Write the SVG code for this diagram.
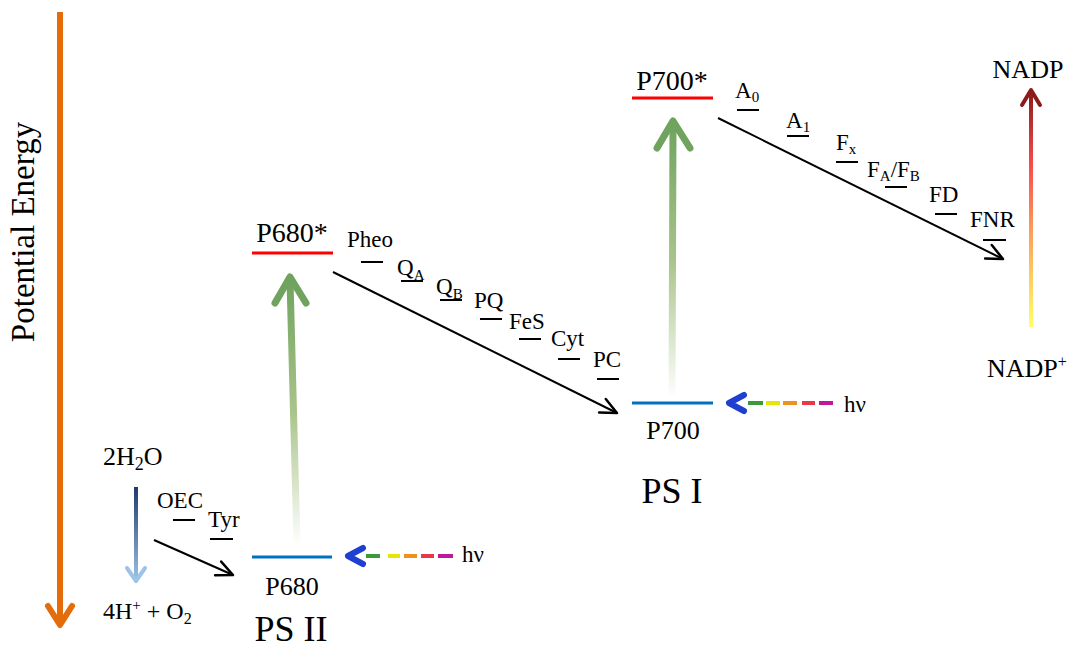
<svg xmlns="http://www.w3.org/2000/svg" width="1079" height="647" viewBox="0 0 1079 647">
  <style>
    text { font-family: "Liberation Serif", "Times New Roman", serif; fill: #000; }
    .lbl { font-size: 23px; }
    .big { font-size: 28px; }
    .ps { font-size: 36px; }
    .dash { stroke: #000; stroke-width: 2; }
    .conn { stroke: #000; stroke-width: 2; fill: none; }
    .hv { stroke-width: 4; fill: none; }
    .hvhead { fill: none; stroke: #1f3fd0; stroke-width: 6; stroke-linecap: round; stroke-linejoin: round; }
  </style>
  <defs>
    <marker id="open" markerUnits="userSpaceOnUse" markerWidth="20" markerHeight="20" refX="0" refY="0" viewBox="-14 -8 16 16" orient="auto" overflow="visible">
      <path d="M-13,-6 L0,0 L-13,6" fill="none" stroke="#000" stroke-width="2" stroke-linecap="round" stroke-linejoin="round"/>
    </marker>
    <linearGradient id="g680" gradientUnits="userSpaceOnUse" x1="0" y1="278" x2="0" y2="545">
      <stop offset="0" stop-color="#6fa35e"/>
      <stop offset="0.5" stop-color="#a9c48a"/>
      <stop offset="1" stop-color="#ffffff"/>
    </linearGradient>
    <linearGradient id="g700" gradientUnits="userSpaceOnUse" x1="0" y1="122" x2="0" y2="398">
      <stop offset="0" stop-color="#6fa35e"/>
      <stop offset="0.5" stop-color="#a9c48a"/>
      <stop offset="1" stop-color="#ffffff"/>
    </linearGradient>
    <linearGradient id="gnadp" gradientUnits="userSpaceOnUse" x1="0" y1="92" x2="0" y2="327">
      <stop offset="0" stop-color="#8b1c1c"/>
      <stop offset="0.3" stop-color="#f44a4a"/>
      <stop offset="0.6" stop-color="#fd9f5a"/>
      <stop offset="1" stop-color="#ffff66"/>
    </linearGradient>
    <linearGradient id="gwater" gradientUnits="userSpaceOnUse" x1="0" y1="487" x2="0" y2="582">
      <stop offset="0" stop-color="#1f3b6e"/>
      <stop offset="1" stop-color="#9dc3e6"/>
    </linearGradient>
  </defs>

  <!-- energy axis -->
  <g id="axis">
    <line x1="60" y1="12" x2="60" y2="624" stroke="#e46c0a" stroke-width="6"/>
    <polyline points="48,606 60,625 72,606" fill="none" stroke="#e46c0a" stroke-width="6" stroke-linecap="round" stroke-linejoin="round"/>
    <text transform="translate(34,232) rotate(-90)" text-anchor="middle" font-size="33">Potential Energy</text>
  </g>

  <!-- water splitting -->
  <g id="water">
    <text x="103" y="465" font-size="26">2H<tspan font-size="18" dy="5">2</tspan><tspan dy="-5">O</tspan></text>
    <line x1="136" y1="487" x2="136" y2="580" stroke="url(#gwater)" stroke-width="4"/>
    <polyline points="127,568 136,581 145,568" fill="none" stroke="#9dc3e6" stroke-width="4" stroke-linecap="round" stroke-linejoin="round"/>
    <text x="103" y="619" font-size="24">4H<tspan font-size="15" dy="-9">+</tspan><tspan dy="9"> + O</tspan><tspan font-size="16" dy="5">2</tspan></text>
  </g>

  <g id="oec">
    <text class="lbl" x="157" y="508">OEC</text>
    <line class="dash" x1="173" y1="520" x2="195" y2="520"/>
  </g>
  <g id="tyr">
    <text class="lbl" x="208" y="527">Tyr</text>
    <line class="dash" x1="210" y1="539" x2="233" y2="539"/>
  </g>

  <!-- photosystem II -->
  <g id="p680">
    <line x1="252" y1="557" x2="332" y2="557" stroke="#0070c0" stroke-width="3"/>
    <text x="292" y="595" text-anchor="middle" font-size="26">P680</text>
    <text class="ps" x="291" y="641" text-anchor="middle">PS II</text>
  </g>
  <g id="p680-excite">
    <line x1="297" y1="544" x2="290" y2="280" stroke="url(#g680)" stroke-width="7"/>
    <polyline points="275,303 290,277 306,303" fill="none" stroke="#6fa35e" stroke-width="7" stroke-linecap="round" stroke-linejoin="round"/>
  </g>
  <g id="p680star">
    <line x1="252" y1="253" x2="333" y2="253" stroke="#ff0000" stroke-width="3"/>
    <text class="big" x="292" y="242" text-anchor="middle">P680*</text>
  </g>

  <g id="hv1">
    <polyline class="hvhead" points="363,548 348,556 363,564"/>
    <line class="hv" x1="366" y1="556" x2="380" y2="556" stroke="#3a9a3a"/>
    <line class="hv" x1="388" y1="556" x2="400" y2="556" stroke="#e6e600"/>
    <line class="hv" x1="404" y1="556" x2="417" y2="556" stroke="#f0901e"/>
    <line class="hv" x1="421" y1="556" x2="434" y2="556" stroke="#e8384a"/>
    <line class="hv" x1="438" y1="556" x2="453" y2="556" stroke="#c0189a"/>
    <text x="462" y="562" font-size="23">hν</text>
  </g>

  <!-- PSII electron carriers -->
  <g id="pheo"><text class="lbl" x="347" y="247">Pheo</text><line class="dash" x1="361" y1="262" x2="383" y2="262"/></g>
  <g id="qa"><text class="lbl" x="397" y="275">Q<tspan font-size="15" dy="5">A</tspan></text><line class="dash" x1="401" y1="281" x2="423" y2="281"/></g>
  <g id="qb"><text class="lbl" x="436" y="294">Q<tspan font-size="15" dy="5">B</tspan></text><line class="dash" x1="440" y1="300" x2="462" y2="300"/></g>
  <g id="pq"><text class="lbl" x="474" y="308">PQ</text><line class="dash" x1="480" y1="319" x2="502" y2="319"/></g>
  <g id="fes"><text class="lbl" x="509" y="329">FeS</text><line class="dash" x1="519" y1="339" x2="541" y2="339"/></g>
  <g id="cyt"><text class="lbl" x="551" y="346">Cyt</text><line class="dash" x1="558" y1="359" x2="580" y2="359"/></g>
  <g id="pc"><text class="lbl" x="593" y="367">PC</text><line class="dash" x1="597" y1="379" x2="619" y2="379"/></g>

  <!-- photosystem I -->
  <g id="p700">
    <line x1="632" y1="403" x2="713" y2="403" stroke="#0070c0" stroke-width="3"/>
    <text x="673" y="439" text-anchor="middle" font-size="26">P700</text>
    <text class="ps" x="672" y="503" text-anchor="middle">PS I</text>
  </g>
  <g id="p700-excite">
    <line x1="672" y1="397" x2="673" y2="124" stroke="url(#g700)" stroke-width="7"/>
    <polyline points="657,148 673,121 690,148" fill="none" stroke="#6fa35e" stroke-width="7" stroke-linecap="round" stroke-linejoin="round"/>
  </g>
  <g id="p700star">
    <line x1="632" y1="98" x2="713" y2="98" stroke="#ff0000" stroke-width="3"/>
    <text class="big" x="672" y="90" text-anchor="middle">P700*</text>
  </g>

  <g id="hv2">
    <polyline class="hvhead" points="744,395 729,403 744,411"/>
    <line class="hv" x1="748" y1="403" x2="763" y2="403" stroke="#3a9a3a"/>
    <line class="hv" x1="766" y1="403" x2="780" y2="403" stroke="#e6e600"/>
    <line class="hv" x1="783" y1="403" x2="797" y2="403" stroke="#f0901e"/>
    <line class="hv" x1="802" y1="403" x2="815" y2="403" stroke="#e8384a"/>
    <line class="hv" x1="819" y1="403" x2="833" y2="403" stroke="#c0189a"/>
    <text x="844" y="412" font-size="23">hν</text>
  </g>

  <!-- PSI electron carriers -->
  <g id="a0"><text class="lbl" x="735" y="98">A<tspan font-size="15" dy="4">0</tspan></text><line class="dash" x1="737" y1="110" x2="759" y2="110"/></g>
  <g id="a1"><text class="lbl" x="786" y="128">A<tspan font-size="15" dy="4">1</tspan></text><line class="dash" x1="787" y1="136" x2="809" y2="136"/></g>
  <g id="fx"><text class="lbl" x="836" y="150">F<tspan font-size="15" dy="4">x</tspan></text><line class="dash" x1="836" y1="162" x2="858" y2="162"/></g>
  <g id="fab"><text class="lbl" x="867" y="177">F<tspan font-size="15" dy="4">A</tspan><tspan dy="-4">/F</tspan><tspan font-size="15" dy="4">B</tspan></text><line class="dash" x1="885" y1="187" x2="907" y2="187"/></g>
  <g id="fd"><text class="lbl" x="929" y="202">FD</text><line class="dash" x1="935" y1="214" x2="957" y2="214"/></g>
  <g id="fnr"><text class="lbl" x="970" y="227">FNR</text><line class="dash" x1="983" y1="240" x2="1006" y2="240"/></g>

  <!-- NADP reduction -->
  <g id="nadp">
    <text x="1028" y="78" text-anchor="middle" font-size="26">NADP</text>
    <line x1="1031" y1="327" x2="1031" y2="93" stroke="url(#gnadp)" stroke-width="4"/>
    <polyline points="1022,105 1031,90 1040,105" fill="none" stroke="#8b1c1c" stroke-width="4" stroke-linecap="round" stroke-linejoin="round"/>
    <text x="987" y="377" font-size="26">NADP<tspan font-size="16" dy="-10">+</tspan></text>
  </g>

  <!-- electron transfer connectors -->
  <g id="connectors">
    <line class="conn" x1="154" y1="540" x2="233" y2="575" marker-end="url(#open)"/>
    <line class="conn" x1="333" y1="272" x2="617" y2="413" marker-end="url(#open)"/>
    <line class="conn" x1="718" y1="118" x2="1003" y2="259" marker-end="url(#open)"/>
  </g>
</svg>
